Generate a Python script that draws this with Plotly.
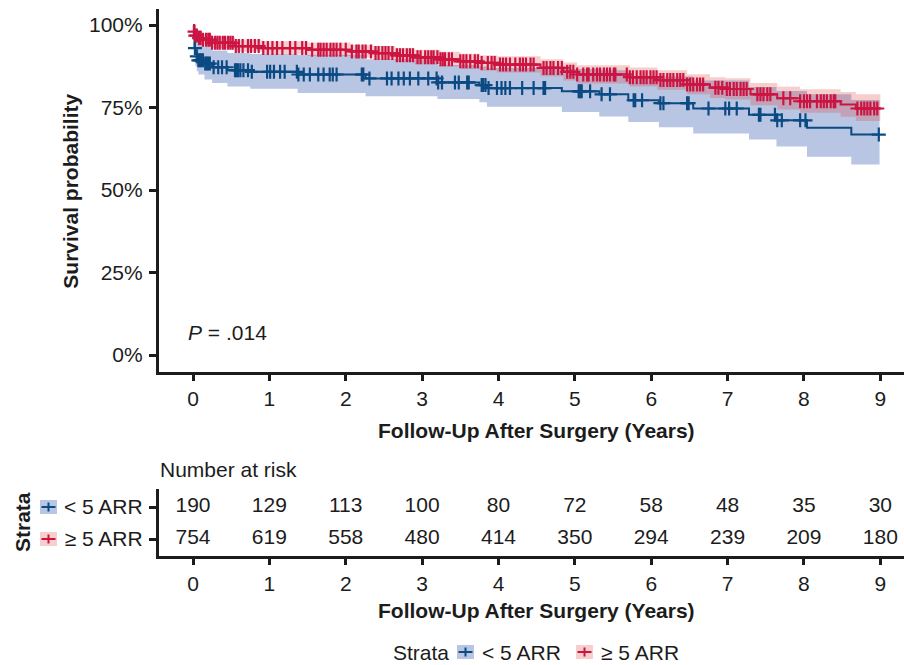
import numpy as np
import plotly.graph_objects as go

# ---------------- data ----------------
# "< 5 ARR" stratum (blue): step times (years), survival %, lower/upper CI %
blue_t = [0, 0.01, 0.02, 0.03, 0.05, 0.07, 0.15, 0.25, 0.45, 0.75, 1.37, 2.26, 3.2, 3.75, 3.85,
          4.83, 5.32, 5.70, 6.10, 6.55, 7.28, 7.64, 8.04, 8.62]
blue_s = [100, 96, 93, 91.5, 90.5, 89.3, 88.3, 87.2, 86.3, 85.8, 85.0, 83.8, 82.6, 81.8, 80.9,
          79.9, 79.0, 77.2, 76.3, 74.7, 72.8, 71.1, 68.9, 66.8]
blue_lo = [100, 93, 89.5, 87.5, 86, 85, 83.5, 82.4, 81.4, 80.7, 79.4, 78.4, 77.6, 76.6, 75.2,
           73.6, 72.3, 70.6, 69.0, 67.1, 65.3, 63.2, 60.1, 57.7]
blue_hi = [100, 99.1, 96.6, 95.7, 95.2, 93.8, 93.4, 92.3, 91.5, 91.2, 91.0, 89.6, 87.9, 87.4, 87.0,
           86.7, 86.3, 84.4, 84.4, 83.2, 81.2, 80.0, 79.0, 77.3]
blue_end = 8.99
blue_cens = [0.025, 0.05, 0.07, 0.09, 0.11, 0.13, 0.16, 0.18, 0.20, 0.22, 0.27, 0.33, 0.38, 0.44,
             0.55, 0.57, 0.59, 0.62, 0.66, 0.72, 0.77, 0.97, 1.01, 1.06, 1.14, 1.20, 1.36, 1.38,
             1.45, 1.53, 1.64, 1.71, 1.79, 1.83, 1.88, 2.21, 2.23, 2.31, 2.54, 2.60, 2.69, 2.76,
             2.84, 2.95, 3.08, 3.19, 3.21, 3.26, 3.43, 3.48, 3.59, 3.61, 3.78, 3.80, 3.83, 3.87,
             3.98, 4.04, 4.09, 4.15, 4.31, 4.46, 4.59, 4.61, 5.05, 5.07, 5.09, 5.20, 5.35, 5.46,
             5.77, 5.79, 5.88, 6.12, 6.16, 6.47, 6.49, 6.75, 6.97, 7.02, 7.12, 7.41, 7.43, 7.62,
             7.65, 7.71, 7.95, 8.02, 8.98]

# ">= 5 ARR" stratum (red)
red_t = [0, 0.013, 0.03, 0.065, 0.12, 0.25, 0.55, 0.9, 1.5, 2.06, 2.36, 2.65, 2.9, 3.24, 3.5,
         3.76, 3.98, 4.55, 4.85, 5.03, 5.72, 6.08, 6.47, 6.77, 6.97, 7.3, 7.65, 7.95, 8.48, 8.68]
red_s = [100, 98.0, 96.8, 96.0, 95.5, 94.6, 93.6, 93.0, 92.5, 92.0, 91.5, 90.8, 90.2, 89.6, 89.0,
         88.5, 88.0, 87.0, 85.8, 85.0, 84.2, 83.3, 82.0, 81.0, 80.6, 79.0, 77.8, 76.9, 75.9, 74.7]
red_lo = [100, 97.0, 95.5, 94.6, 94.0, 93.0, 91.9, 91.2, 90.6, 90.1, 89.5, 88.8, 88.1, 87.4, 86.7,
          86.1, 85.6, 84.5, 83.2, 82.3, 81.4, 80.4, 79.0, 77.9, 77.4, 75.7, 74.4, 73.4, 72.2, 70.9]
red_hi = [100, 99.0, 98.1, 97.6, 97.2, 96.4, 95.6, 95.1, 94.7, 94.0, 93.6, 93.0, 92.5, 91.9, 91.3,
          90.8, 90.5, 89.6, 88.6, 87.8, 87.1, 86.3, 85.1, 84.2, 83.9, 82.4, 81.3, 80.5, 79.7, 79.0]
red_end = 9.0
red_cens = [0.02, 0.03, 0.05, 0.08, 0.10, 0.13, 0.17, 0.20, 0.22, 0.25, 0.29, 0.32, 0.35, 0.39,
            0.42, 0.46, 0.49, 0.52, 0.56, 0.60, 0.65, 0.72, 0.76, 0.81, 0.86, 0.92, 0.98, 1.04,
            1.10, 1.17, 1.27, 1.34, 1.43, 1.48, 1.56, 1.64, 1.67, 1.71, 1.75, 1.80, 1.84, 1.88,
            1.93, 2.00, 2.08, 2.14, 2.17, 2.22, 2.26, 2.33, 2.39, 2.43, 2.48, 2.52, 2.56, 2.61,
            2.67, 2.71, 2.75, 2.80, 2.84, 2.88, 2.94, 2.98, 3.04, 3.08, 3.12, 3.15, 3.20, 3.24,
            3.27, 3.30, 3.35, 3.39, 3.50, 3.54, 3.58, 3.63, 3.69, 3.73, 3.78, 3.86, 3.91, 3.95,
            4.02, 4.06, 4.10, 4.15, 4.22, 4.28, 4.32, 4.36, 4.42, 4.46, 4.59, 4.63, 4.68, 4.72,
            4.78, 4.83, 4.90, 4.94, 4.98, 5.03, 5.11, 5.16, 5.18, 5.24, 5.29, 5.33, 5.38, 5.42,
            5.46, 5.51, 5.53, 5.68, 5.72, 5.76, 5.81, 5.86, 5.90, 5.94, 5.99, 6.03, 6.07, 6.12,
            6.16, 6.21, 6.25, 6.29, 6.34, 6.38, 6.42, 6.47, 6.51, 6.55, 6.60, 6.64, 6.68, 6.84,
            6.88, 6.93, 6.99, 7.03, 7.08, 7.12, 7.17, 7.21, 7.25, 7.39, 7.43, 7.47, 7.52, 7.56,
            7.73, 7.82, 7.95, 8.00, 8.04, 8.08, 8.17, 8.22, 8.26, 8.30, 8.35, 8.39, 8.41, 8.70,
            8.75, 8.79, 8.83, 8.87, 8.92, 8.96]

risk_years = [0, 1, 2, 3, 4, 5, 6, 7, 8, 9]
risk_lt5 = [190, 129, 113, 100, 80, 72, 58, 48, 35, 30]
risk_ge5 = [754, 619, 558, 480, 414, 350, 294, 239, 209, 180]

strata_labels = ["< 5 ARR", "\u2265 5 ARR"]
y_ticks = [0, 25, 50, 75, 100]
y_ticktext = ["0%", "25%", "50%", "75%", "100%"]
p_text = "<i>P</i> = .014"

# ---------------- style ----------------
W, H = 904, 665
FONT = "Liberation Sans, Arial, Helvetica, sans-serif"
TXT = "#1c1c1c"
BLUE = "#0b4a82"
RED = "#cc1442"
BLUE_FILL = "rgba(40,80,170,0.33)"
RED_FILL = "rgba(220,60,50,0.25)"
FS = 21


def px(p):
    return p / W


def py(p):
    return (H - p) / H


def ext(t, v, end):
    return list(t) + [end], list(v) + [v[-1]]


fig = go.Figure()

for t, lo, hi, end, fill in [
    (blue_t, blue_lo, blue_hi, blue_end, BLUE_FILL),
    (red_t, red_lo, red_hi, red_end, RED_FILL),
]:
    x_lo, y_lo = ext(t, lo, end)
    x_hi, y_hi = ext(t, hi, end)
    fig.add_trace(go.Scatter(x=x_lo, y=y_lo, mode="lines", line=dict(width=0, shape="hv"),
                             showlegend=False, hoverinfo="skip"))
    fig.add_trace(go.Scatter(x=x_hi, y=y_hi, mode="lines", line=dict(width=0, shape="hv"),
                             fill="tonexty", fillcolor=fill, showlegend=False, hoverinfo="skip"))

for t, s, end, cens, col in [
    (blue_t, blue_s, blue_end, blue_cens, BLUE),
    (red_t, red_s, red_end, red_cens, RED),
]:
    x_s, y_s = ext(t, s, end)
    fig.add_trace(go.Scatter(x=x_s, y=y_s, mode="lines", line=dict(width=2, color=col, shape="hv"),
                             showlegend=False))
    ta = np.array(t)
    sa = np.array(s)
    idx = np.searchsorted(ta, np.array(cens), side="right") - 1
    fig.add_trace(go.Scatter(x=cens, y=sa[idx], mode="markers",
                             marker=dict(symbol="cross-thin", size=10,
                                         line=dict(width=2.2, color=col)),
                             showlegend=False))

# risk table text
fig.add_trace(go.Scatter(x=risk_years, y=[2] * len(risk_years), mode="text",
                         text=[str(v) for v in risk_lt5], textfont=dict(size=FS, color=TXT, family=FONT),
                         xaxis="x2", yaxis="y2", showlegend=False))
fig.add_trace(go.Scatter(x=risk_years, y=[1] * len(risk_years), mode="text",
                         text=[str(v) for v in risk_ge5], textfont=dict(size=FS, color=TXT, family=FONT),
                         xaxis="x2", yaxis="y2", showlegend=False))

x_left = 158.65
axis_common = dict(showgrid=False, zeroline=False, showline=True, linecolor="#1c1c1c", linewidth=2.5,
                   ticks="outside", ticklen=7, tickwidth=2.5, tickcolor="#1c1c1c",
                   tickfont=dict(size=FS, color=TXT, family=FONT))

fig.update_layout(
    width=W, height=H, margin=dict(l=0, r=0, t=0, b=0),
    paper_bgcolor="white", plot_bgcolor="white",
    font=dict(family=FONT, size=FS, color=TXT),
    xaxis=dict(domain=[px(x_left), 1], range=[-0.45, 9.31], tickvals=risk_years,
               anchor="y", ticklabelstandoff=0, **axis_common),
    yaxis=dict(domain=[py(371.5), py(8.5)], range=[-5, 105], tickvals=y_ticks, ticktext=y_ticktext,
               anchor="x", ticklabelstandoff=2, **axis_common),
    xaxis2=dict(domain=[px(x_left), 1], range=[-0.45, 9.31], tickvals=risk_years,
                anchor="y2", ticklabelstandoff=0, **axis_common),
    yaxis2=dict(domain=[py(555.7), py(489)], range=[0.478, 2.5625], tickvals=[2, 1],
                ticktext=strata_labels, anchor="x2", ticklabelstandoff=2, **axis_common),
)

ann = []
bold = dict(size=FS, color=TXT, family=FONT)
ann.append(dict(text="<b>Survival probability</b>", x=px(70.7), y=py(191), xref="paper", yref="paper",
                textangle=-90, showarrow=False, font=bold, xanchor="center", yanchor="middle"))
ann.append(dict(text="<b>Follow-Up After Surgery (Years)</b>", x=px(536.5), y=py(430), xref="paper",
                yref="paper", showarrow=False, font=bold, xanchor="center", yanchor="middle"))
ann.append(dict(text="<b>Follow-Up After Surgery (Years)</b>", x=px(536.5), y=py(610), xref="paper",
                yref="paper", showarrow=False, font=bold, xanchor="center", yanchor="middle"))
ann.append(dict(text="Number at risk", x=px(158), y=py(469), xref="paper", yref="paper",
                showarrow=False, font=bold, xanchor="left", yanchor="middle"))
ann.append(dict(text="<b>Strata</b>", x=px(22), y=py(522), xref="paper", yref="paper", textangle=-90,
                showarrow=False, font=bold, xanchor="center", yanchor="middle"))
ann.append(dict(text=p_text, x=-0.09, y=6.7, xref="x", yref="y", showarrow=False, font=bold,
                xanchor="left", yanchor="middle"))
# bottom legend
ann.append(dict(text="Strata", x=px(391), y=py(652), xref="paper", yref="paper", showarrow=False,
                font=bold, xanchor="left", yanchor="middle"))
ann.append(dict(text=strata_labels[0], x=px(480), y=py(652), xref="paper", yref="paper", showarrow=False,
                font=bold, xanchor="left", yanchor="middle"))
ann.append(dict(text=strata_labels[1], x=px(599), y=py(652), xref="paper", yref="paper", showarrow=False,
                font=bold, xanchor="left", yanchor="middle"))
fig.update_layout(annotations=ann)

shapes = []


def icon(x0, yc_px, col, fill):
    s = []
    s.append(dict(type="rect", xref="paper", yref="paper", x0=px(x0), x1=px(x0 + 17),
                  y0=py(yc_px + 7), y1=py(yc_px - 7), fillcolor=fill, line=dict(width=0)))
    s.append(dict(type="line", xref="paper", yref="paper", x0=px(x0 + 1.5), x1=px(x0 + 15.5),
                  y0=py(yc_px), y1=py(yc_px), line=dict(color=col, width=2)))
    s.append(dict(type="line", xref="paper", yref="paper", x0=px(x0 + 8.5), x1=px(x0 + 8.5),
                  y0=py(yc_px - 4.5), y1=py(yc_px + 4.5), line=dict(color=col, width=2)))
    return s


shapes += icon(40, 507, BLUE, BLUE_FILL)
shapes += icon(40, 539, RED, RED_FILL)
shapes += icon(457, 652, BLUE, BLUE_FILL)
shapes += icon(576, 652, RED, RED_FILL)
fig.update_layout(shapes=shapes)

fig.write_html("out.html")
